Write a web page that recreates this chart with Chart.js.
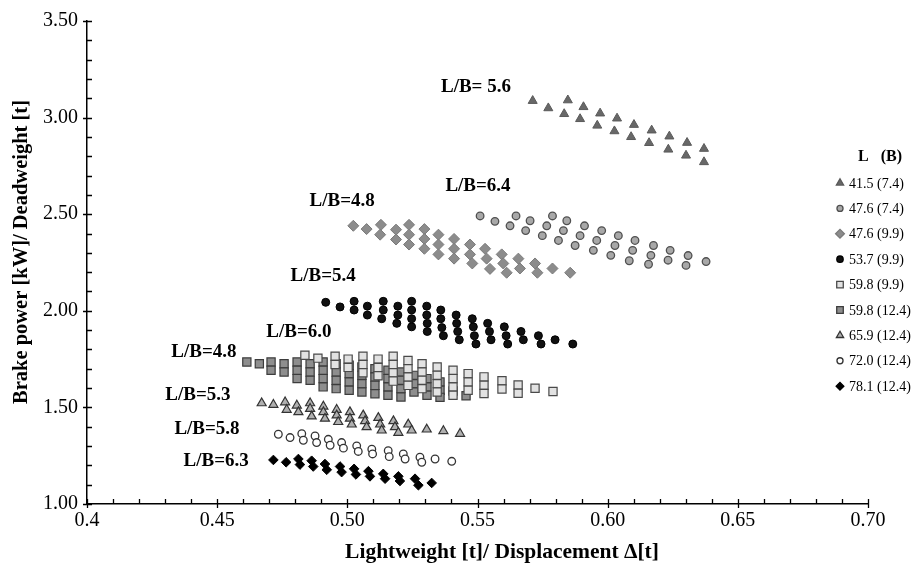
<!DOCTYPE html>
<html>
<head>
<meta charset="utf-8">
<script src="https://cdn.jsdelivr.net/npm/chart.js@4.4.1/dist/chart.umd.min.js"></script>
<style>
  html, body { margin: 0; padding: 0; background: #fff; }
  #wrap { width: 921px; height: 569px; position: relative; }
</style>
</head>
<body>
<div id="wrap"><canvas id="c"></canvas></div>
<script>
// values: [lightweight/displacement, brake power/deadweight]
const s415_74 = [
  [0.5712,3.087],[0.5772,3.049],[0.5847,3.090],[0.5907,3.055],[0.5833,3.019],[0.5971,3.022],
  [0.5894,2.993],[0.6036,2.996],[0.5960,2.959],[0.6101,2.963],[0.6026,2.930],[0.6169,2.934],
  [0.6090,2.900],[0.6237,2.903],[0.6159,2.869],[0.6233,2.835],[0.6305,2.870],[0.6301,2.804],
  [0.6370,2.839],[0.6370,2.770]
]
const s476_74 = [
  [0.5510,2.491],[0.5567,2.463],[0.5648,2.491],[0.5625,2.440],[0.5702,2.466],[0.5685,2.415],
  [0.5788,2.491],[0.5766,2.440],[0.5749,2.389],[0.5843,2.466],[0.5830,2.415],[0.5811,2.364],
  [0.5911,2.440],[0.5894,2.389],[0.5875,2.338],[0.5977,2.415],[0.5958,2.364],[0.5945,2.313],
  [0.6041,2.389],[0.6028,2.338],[0.6012,2.287],[0.6105,2.364],[0.6096,2.313],[0.6083,2.259],
  [0.6176,2.338],[0.6166,2.287],[0.6157,2.241],[0.6240,2.313],[0.6232,2.262],[0.6309,2.286],
  [0.6301,2.235],[0.6378,2.255]
]
const s476_99 = [
  [0.5023,2.440],[0.5074,2.423],[0.5129,2.445],[0.5126,2.394],[0.5187,2.420],[0.5187,2.369],
  [0.5237,2.445],[0.5237,2.394],[0.5237,2.343],[0.5296,2.423],[0.5296,2.372],[0.5296,2.321],
  [0.5350,2.394],[0.5350,2.343],[0.5350,2.292],[0.5410,2.372],[0.5410,2.321],[0.5410,2.270],
  [0.5471,2.343],[0.5471,2.292],[0.5480,2.245],[0.5529,2.321],[0.5535,2.270],[0.5548,2.217],
  [0.5593,2.292],[0.5599,2.245],[0.5612,2.197],[0.5657,2.270],[0.5663,2.219],[0.5721,2.245],
  [0.5730,2.197],[0.5788,2.219],[0.5856,2.197]
]
const s537_99 = [
  [0.4917,2.044],[0.4972,2.020],[0.5026,2.049],[0.5026,2.004],[0.5077,2.024],[0.5077,1.978],
  [0.5138,2.049],[0.5138,2.004],[0.5132,1.959],[0.5194,2.024],[0.5194,1.978],[0.5190,1.935],
  [0.5247,2.049],[0.5247,2.004],[0.5247,1.959],[0.5247,1.917],[0.5305,2.024],[0.5305,1.978],
  [0.5307,1.935],[0.5307,1.893],[0.5359,2.004],[0.5359,1.959],[0.5363,1.913],[0.5369,1.871],
  [0.5418,1.978],[0.5420,1.935],[0.5424,1.893],[0.5430,1.850],[0.5480,1.959],[0.5484,1.917],
  [0.5488,1.871],[0.5494,1.828],[0.5539,1.935],[0.5546,1.893],[0.5552,1.850],[0.5603,1.917],
  [0.5610,1.871],[0.5616,1.828],[0.5667,1.893],[0.5676,1.850],[0.5734,1.871],[0.5744,1.828],
  [0.5798,1.850],[0.5866,1.828]
]
const s598_99 = [
  [0.4837,1.770],[0.4887,1.755],[0.4953,1.765],[0.4953,1.722],[0.5003,1.750],[0.5003,1.707],
  [0.5060,1.765],[0.5060,1.722],[0.5060,1.679],[0.5118,1.750],[0.5118,1.707],[0.5118,1.664],
  [0.5176,1.765],[0.5176,1.722],[0.5176,1.679],[0.5176,1.636],[0.5233,1.743],[0.5233,1.700],
  [0.5233,1.657],[0.5233,1.614],[0.5287,1.726],[0.5287,1.683],[0.5287,1.640],[0.5287,1.597],
  [0.5345,1.709],[0.5345,1.666],[0.5345,1.623],[0.5345,1.580],[0.5406,1.692],[0.5406,1.649],
  [0.5406,1.606],[0.5406,1.563],[0.5464,1.675],[0.5464,1.632],[0.5464,1.589],[0.5525,1.658],
  [0.5525,1.615],[0.5525,1.572],[0.5594,1.638],[0.5594,1.595],[0.5656,1.616],[0.5656,1.573],
  [0.5721,1.599],[0.5790,1.582]
]
const s598_124 = [
  [0.4614,1.735],[0.4662,1.726],[0.4707,1.735],[0.4707,1.692],[0.4757,1.726],[0.4757,1.683],
  [0.4807,1.735],[0.4807,1.692],[0.4807,1.649],[0.4857,1.726],[0.4857,1.683],[0.4857,1.640],
  [0.4907,1.735],[0.4907,1.692],[0.4907,1.649],[0.4907,1.606],[0.4957,1.726],[0.4957,1.683],
  [0.4957,1.640],[0.4957,1.597],[0.5007,1.718],[0.5007,1.675],[0.5007,1.632],[0.5007,1.589],
  [0.5056,1.709],[0.5056,1.666],[0.5056,1.623],[0.5056,1.580],[0.5106,1.700],[0.5106,1.657],
  [0.5106,1.614],[0.5106,1.571],[0.5156,1.692],[0.5156,1.649],[0.5156,1.606],[0.5156,1.563],
  [0.5206,1.683],[0.5206,1.640],[0.5206,1.597],[0.5206,1.554],[0.5256,1.666],[0.5256,1.623],
  [0.5256,1.580],[0.5306,1.649],[0.5306,1.606],[0.5306,1.563],[0.5356,1.632],[0.5356,1.589],
  [0.5356,1.552],[0.5406,1.585],[0.5456,1.560]
]
const s659_124 = [
  [0.4671,1.522],[0.4716,1.514],[0.4761,1.527],[0.4767,1.488],[0.4806,1.510],[0.4812,1.476],
  [0.4857,1.522],[0.4857,1.493],[0.4863,1.454],[0.4908,1.505],[0.4908,1.476],[0.4914,1.442],
  [0.4959,1.488],[0.4959,1.459],[0.4965,1.425],[0.5010,1.476],[0.5010,1.442],[0.5017,1.412],
  [0.5061,1.459],[0.5068,1.429],[0.5074,1.398],[0.5119,1.446],[0.5126,1.412],[0.5132,1.381],
  [0.5177,1.429],[0.5183,1.398],[0.5196,1.369],[0.5234,1.412],[0.5247,1.381],[0.5305,1.386],
  [0.5369,1.378],[0.5433,1.364]
]
const s720_124 = [
  [0.4735,1.361],[0.4780,1.344],[0.4825,1.364],[0.4831,1.330],[0.4876,1.352],[0.4882,1.318],
  [0.4927,1.335],[0.4934,1.304],[0.4978,1.318],[0.4985,1.289],[0.5036,1.301],[0.5042,1.272],
  [0.5094,1.284],[0.5097,1.259],[0.5157,1.276],[0.5161,1.245],[0.5215,1.259],[0.5222,1.233],
  [0.5279,1.242],[0.5286,1.216],[0.5337,1.233],[0.5401,1.221]
]
const s781_124 = [
  [0.4716,1.228],[0.4765,1.216],[0.4812,1.233],[0.4818,1.204],[0.4863,1.224],[0.4869,1.194],
  [0.4914,1.207],[0.4921,1.177],[0.4972,1.194],[0.4978,1.165],[0.5026,1.182],[0.5033,1.153],
  [0.5081,1.170],[0.5087,1.143],[0.5138,1.156],[0.5145,1.131],[0.5196,1.143],[0.5202,1.119],
  [0.5260,1.131],[0.5273,1.097],[0.5324,1.109]
]

const seriesNames = ['41.5 (7.4)','47.6 (7.4)','47.6 (9.9)','53.7 (9.9)','59.8 (9.9)',
  '59.8 (12.4)','65.9 (12.4)','72.0 (12.4)','78.1 (12.4)']
const seriesData = [s415_74, s476_74, s476_99, s537_99, s598_99, s598_124, s659_124, s720_124, s781_124]

const xTickLabels = ['0.4','0.45','0.50','0.55','0.60','0.65','0.70']
const yTickLabels = ['1.00','1.50','2.00','2.50','3.00','3.50']
const xTitle = 'Lightweight [t]/ Displacement \u0394[t]'
const yTitle = 'Brake power [kW]/ Deadweight [t]'

// L/B group labels: [text, x, y] in axis units
const groupLabels = [
  ['L/B= 5.6',0.5494,3.158],['L/B=6.4',0.5502,2.648],['L/B=4.8',0.4980,2.566],
  ['L/B=5.4',0.4907,2.179],['L/B=6.0',0.4814,1.888],['L/B=4.8',0.4449,1.786],
  ['L/B=5.3',0.4426,1.566],['L/B=5.8',0.4461,1.388],['L/B=6.3',0.4496,1.224]
]

const styles = [
  {pointStyle:'triangle', radius:5.2, bg:'#686868', border:'#5a5a5a', bw:1},
  {pointStyle:'circle',   radius:3.8, bg:'#a8a8a8', border:'#505050', bw:1.3},
  {pointStyle:'rectRot',  radius:5.5, bg:'#8c8c8c', border:'#7a7a7a', bw:1},
  {pointStyle:'circle',   radius:4,   bg:'#111111', border:'#000000', bw:1},
  {pointStyle:'rect',     radius:5.8, bg:'#e2e2e2', border:'#4a4a4a', bw:1.2},
  {pointStyle:'rect',     radius:5.8, bg:'#8e8e8e', border:'#3c3c3c', bw:1.2},
  {pointStyle:'triangle', radius:5.2, bg:'#b0b0b0', border:'#333333', bw:1.2},
  {pointStyle:'circle',   radius:3.8, bg:'#ffffff', border:'#333333', bw:1.3},
  {pointStyle:'rectRot',  radius:4.8, bg:'#000000', border:'#000000', bw:1}
]

const serif = "'Liberation Serif', 'DejaVu Serif', serif"

const datasets = seriesData.map((pts, i) => ({
  label: seriesNames[i],
  data: pts.map(p => ({x: p[0], y: p[1]})),
  pointStyle: styles[i].pointStyle,
  pointRadius: styles[i].radius,
  pointBackgroundColor: styles[i].bg,
  pointBorderColor: styles[i].border,
  pointBorderWidth: styles[i].bw,
  showLine: false
}))

// tick marks, axis titles, group labels and legend
const extras = {
  id: 'extras',
  afterDraw(chart){
    const ctx = chart.ctx
    const xs = chart.scales.x, ys = chart.scales.y
    const y0 = ys.bottom, x0 = xs.left
    ctx.save()
    ctx.strokeStyle = '#000'
    ctx.lineWidth = 1.3
    ctx.beginPath()
    for(let i = 40; i <= 70; i++){
      const px = Math.round(xs.getPixelForValue(i / 100)) + 0.5
      const major = i % 5 == 0
      ctx.moveTo(px, y0 - 5)
      ctx.lineTo(px, major ? y0 + 4 : y0)
    }
    for(let i = 10; i <= 35; i++){
      const py = Math.round(ys.getPixelForValue(i / 10)) + 0.5
      const major = i % 5 == 0
      ctx.moveTo(major ? x0 - 4 : x0, py)
      ctx.lineTo(x0 + 5, py)
    }
    ctx.stroke()

    ctx.fillStyle = '#000'
    ctx.textAlign = 'center'
    ctx.textBaseline = 'middle'
    ctx.font = 'bold 21.5px ' + serif
    ctx.fillText(xTitle, 502, 552)
    ctx.save()
    ctx.font = 'bold 20.5px ' + serif
    ctx.translate(22, 252)
    ctx.rotate(-Math.PI / 2)
    ctx.fillText(yTitle, 0, 0)
    ctx.restore()

    ctx.font = 'bold 19px ' + serif
    groupLabels.forEach(l => {
      ctx.fillText(l[0], xs.getPixelForValue(l[1]), ys.getPixelForValue(l[2]))
    })

    // legend
    ctx.font = 'bold 16px ' + serif
    ctx.fillText('L   (B)', 880, 157)
    ctx.font = '14px ' + serif
    ctx.textAlign = 'left'
    chart.data.datasets.forEach((ds, i) => {
      const ly = 183 + i * 25.4
      ctx.fillStyle = ds.pointBackgroundColor
      ctx.strokeStyle = ds.pointBorderColor
      Chart.helpers.drawPoint(ctx, {
        pointStyle: ds.pointStyle, radius: ds.pointRadius * 0.8,
        rotation: 0, borderWidth: ds.pointBorderWidth
      }, 840, ly)
      ctx.fillStyle = '#000'
      ctx.fillText(ds.label, 849, ly + 1)
    })
    ctx.restore()
  }
}

new Chart(document.getElementById('c'), {
  type: 'scatter',
  data: { datasets },
  plugins: [extras],
  options: {
    responsive: true,
    maintainAspectRatio: false,
    animation: false,
    layout: { padding: { left: 0, right: 53, top: 14, bottom: 0 } },
    plugins: { legend: { display: false }, tooltip: { enabled: false } },
    scales: {
      x: {
        type: 'linear', min: 0.4, max: 0.7,
        afterFit: s => { s.height = 65 },
        grid: { display: false, drawTicks: false },
        border: { display: true, color: '#000', width: 1.5 },
        ticks: {
          stepSize: 0.05, padding: 5, color: '#000',
          font: { family: serif, size: 20 },
          callback: (v, i) => xTickLabels[i]
        }
      },
      y: {
        type: 'linear', min: 1, max: 3.5,
        afterFit: s => { s.width = 87 },
        grid: { display: false, drawTicks: false },
        border: { display: true, color: '#000', width: 1.5 },
        ticks: {
          stepSize: 0.5, padding: 9, color: '#000',
          font: { family: serif, size: 20 },
          callback: (v, i) => yTickLabels[i]
        }
      }
    }
  }
})
</script>
</body>
</html>
